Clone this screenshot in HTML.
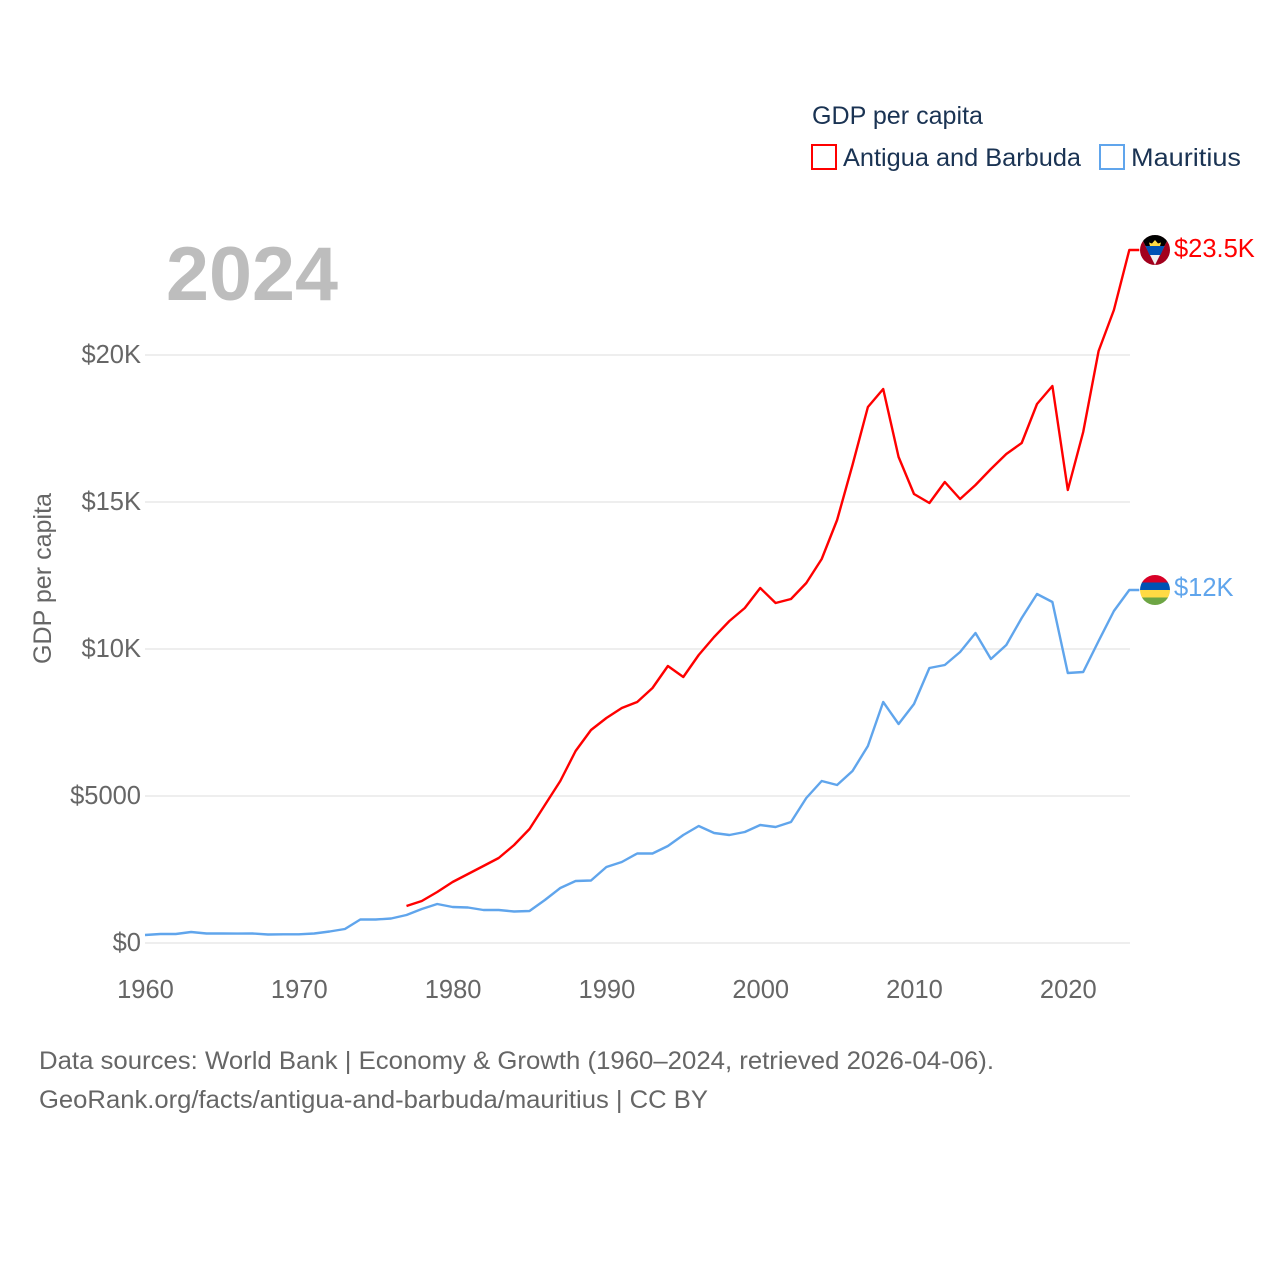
<!DOCTYPE html>
<html lang="en">
<head>
<meta charset="utf-8">
<title>GDP per capita: Antigua and Barbuda vs Mauritius</title>
<style>
html,body{margin:0;padding:0;background:#fff;width:1280px;height:1280px;overflow:hidden}
svg{display:block}
text{font-family:"Liberation Sans",sans-serif}
</style>
</head>
<body>
<svg id="chart" xmlns="http://www.w3.org/2000/svg" width="1280" height="1280" viewBox="0 0 1280 1280">
  <defs>
    <clipPath id="flag-clip"><circle cx="0" cy="0" r="15"/></clipPath>
  </defs>
  <rect x="0" y="0" width="1280" height="1280" fill="#fff"/>
  <g id="grid"></g>
  <g id="yticks"></g>
  <g id="xticks"></g>
  <text x="166" y="300" font-size="76" font-weight="700" fill="#bdbdbd" textLength="172" lengthAdjust="spacingAndGlyphs">2024</text>
  <text transform="translate(51,664) rotate(-90)" font-size="25" fill="#666" textLength="171" lengthAdjust="spacingAndGlyphs">GDP per capita</text>
  <g id="series"></g>
  <g id="flag-antigua">
    <g clip-path="url(#flag-clip)">
      <rect x="-15" y="-15" width="30" height="30" fill="#a2001d"/>
      <polygon points="-15,-15 15,-15 0,15" fill="#f0f0f0"/>
      <polygon points="-15,-15 15,-15 9.5,-4 -9.5,-4" fill="#000"/>
      <polygon points="-9.5,-4 9.5,-4 5.5,5 -5.5,5" fill="#0052b4"/>
      <polygon points="-5,-4 -6,-7.5 -3,-6.5 0,-10 3,-6.5 6,-7.5 5,-4" fill="#ffda44"/>
    </g>
  </g>
  <g id="flag-mauritius">
    <g clip-path="url(#flag-clip)">
      <rect x="-15" y="-15" width="30" height="8" fill="#d80027"/>
      <rect x="-15" y="-7.5" width="30" height="8" fill="#0052b4"/>
      <rect x="-15" y="0" width="30" height="8" fill="#ffda44"/>
      <rect x="-15" y="7.5" width="30" height="8" fill="#6da544"/>
    </g>
  </g>
  <g id="end-labels"></g>

  <g>
    <text x="812" y="124" font-size="25" fill="#1a3353" textLength="171" lengthAdjust="spacingAndGlyphs">GDP per capita</text>
    <g>
      <rect x="812" y="145" width="24" height="24" fill="none" stroke="#ff0000" stroke-width="2"/>
      <text x="843" y="166" font-size="25" fill="#1a3353" textLength="238" lengthAdjust="spacingAndGlyphs">Antigua and Barbuda</text>
    </g>
    <g>
      <rect x="1100" y="145" width="24" height="24" fill="none" stroke="#60a5ec" stroke-width="2"/>
      <text x="1131" y="166" font-size="25" fill="#1a3353" textLength="110" lengthAdjust="spacingAndGlyphs">Mauritius</text>
    </g>
  </g>

  <text x="39" y="1069" font-size="25" fill="#666" textLength="955" lengthAdjust="spacingAndGlyphs">Data sources: World Bank | Economy &amp; Growth (1960–2024, retrieved 2026-04-06).</text>
  <text x="39" y="1108" font-size="25" fill="#666" textLength="669" lengthAdjust="spacingAndGlyphs">GeoRank.org/facts/antigua-and-barbuda/mauritius | CC BY</text>
</svg>
<script>
var firstYear = 1960;
var yTickValues = [0, 5000, 10000, 15000, 20000];
var yTickLabels = ["$0", "$5000", "$10K", "$15K", "$20K"];
var xTickValues = [1960, 1970, 1980, 1990, 2000, 2010, 2020];
var xTickLabels = ["1960", "1970", "1980", "1990", "2000", "2010", "2020"];
var antiguaStartYear = 1977;
var antiguaValues = [1258, 1429, 1735, 2075, 2347, 2619, 2891, 3333, 3878, 4694, 5510, 6531, 7245, 7653, 7993, 8197, 8673, 9422, 9048, 9796, 10408, 10952, 11395, 12075, 11565, 11700, 12245, 13061, 14388, 16259, 18231, 18844, 16530, 15272, 14966, 15680, 15102, 15578, 16122, 16633, 17007, 18333, 18946, 15408, 17381, 20136, 21531, 23571];
var mauritiusStartYear = 1960;
var mauritiusValues = [272, 306, 306, 374, 323, 323, 320, 323, 289, 296, 296, 323, 391, 476, 800, 800, 833, 952, 1156, 1327, 1224, 1207, 1122, 1122, 1071, 1088, 1463, 1871, 2109, 2126, 2585, 2755, 3044, 3044, 3299, 3673, 3980, 3741, 3673, 3776, 4014, 3946, 4116, 4932, 5510, 5374, 5850, 6701, 8197, 7449, 8129, 9354, 9456, 9898, 10544, 9660, 10136, 11054, 11871, 11599, 9184, 9218, 10272, 11293, 12007];
var endLabels = ["$23.5K", "$12K"];

var NS = "http://www.w3.org/2000/svg";
function xScale(year) { return 145 + (year - firstYear) * 15.38; }
function yScale(value) { return 943 - value * 0.0294; }
function make(tag, attrs, parent, content) {
  var el = document.createElementNS(NS, tag);
  for (var k in attrs) { el.setAttribute(k, attrs[k]); }
  if (content !== undefined) { el.textContent = content; }
  parent.appendChild(el);
  return el;
}
var gridG = document.getElementById("grid");
var yG = document.getElementById("yticks");
var xG = document.getElementById("xticks");
var seriesG = document.getElementById("series");
var labelG = document.getElementById("end-labels");

yTickValues.forEach(function (v, i) {
  var line = make("line", {x1: 145, x2: 1130, y1: yScale(v), y2: yScale(v), stroke: "#eeeeee", "stroke-width": 2}, gridG);
  
  
  var t = make("text", {x: 141, y: yScale(v) + 8, "text-anchor": "end", "font-size": 25.5, fill: "#666"}, yG, yTickLabels[i]);
  
  
});
xTickValues.forEach(function (v, i) {
  var t = make("text", {x: xScale(v) + 0.5, y: 998, "text-anchor": "middle", "font-size": 25.5, fill: "#666"}, xG, xTickLabels[i]);
  
  
});
function drawSeries(values, startYear, color) {
  var pts = values.map(function (v, i) {
    return xScale(startYear + i).toFixed(1) + "," + yScale(v).toFixed(1);
  });
  var lastY = yScale(values[values.length - 1]);
  pts.push((xScale(startYear + values.length - 1) + 10).toFixed(1) + "," + lastY.toFixed(1));
  return make("polyline", {points: pts.join(" "), fill: "none", stroke: color, "stroke-width": 2.4, "stroke-linejoin": "round"}, seriesG);
}
var blueLine = drawSeries(mauritiusValues, mauritiusStartYear, "#60a5ec");


var redLine = drawSeries(antiguaValues, antiguaStartYear, "#ff0000");



var yA = yScale(antiguaValues[antiguaValues.length - 1]);
var yM = yScale(mauritiusValues[mauritiusValues.length - 1]);
document.getElementById("flag-antigua").setAttribute("transform", "translate(1155," + yA + ")");
document.getElementById("flag-mauritius").setAttribute("transform", "translate(1155," + yM + ")");
var la = make("text", {x: 1174, y: yA + 7, "font-size": 25.5, fill: "#ff0000"}, labelG, endLabels[0]);


var lm = make("text", {x: 1174, y: yM + 6, "font-size": 25.5, fill: "#60a5ec"}, labelG, endLabels[1]);


</script>
</body>
</html>
